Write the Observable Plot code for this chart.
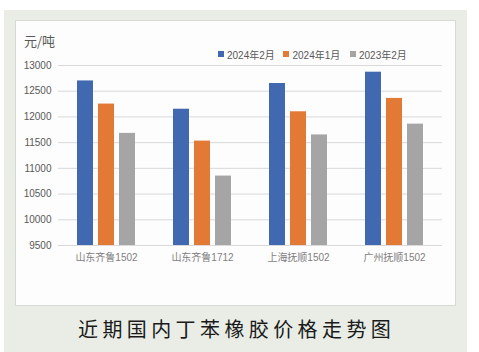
<!DOCTYPE html>
<html>
<head>
<meta charset="utf-8">
<script src="https://cdn.jsdelivr.net/npm/d3@7"></script>
<script src="https://cdn.jsdelivr.net/npm/@observablehq/plot@0.6"></script>
<style>
  html, body { margin: 0; padding: 0; background: #ffffff; }
  #root { position: relative; width: 479px; height: 352px; overflow: hidden; font-family: "Liberation Sans", "Noto Sans CJK SC", sans-serif; }
  #bg { position: absolute; left: 4px; top: 10px; width: 463px; height: 342px; background: #e9ede6; }
  #panel { position: absolute; left: 15px; top: 20px; width: 439px; height: 284px; background: #fdfdfd; border: 1px solid #d6dad2; }
  #chart { position: absolute; left: 0; top: 0; }
  #ylabel { position: absolute; left: 24px; top: 31px; font-size: 13px; color: #595959; font-family: "Noto Sans CJK SC", sans-serif; }
  .lg-sw { position: absolute; width: 6px; height: 6px; top: 51px; }
  .lg-tx { position: absolute; top: 47px; font-size: 10px; color: #595959; white-space: nowrap; font-family: "Liberation Sans", "Noto Sans CJK SC", sans-serif; }
  #title { position: absolute; left: 78px; top: 314px; font-size: 20px; letter-spacing: 4.4px; color: #1a1a1a; white-space: nowrap; font-family: "Noto Sans CJK SC", sans-serif; }
</style>
</head>
<body>
<div id="root">
  <div id="bg"></div>
  <div id="panel"></div>
  <div id="chart"></div>
  <div id="ylabel">元/吨</div>
  <div id="title">近期国内丁苯橡胶价格走势图</div>
</div>
<script>
const categories = ["山东齐鲁1502", "山东齐鲁1712", "上海抚顺1502", "广州抚顺1502"];
const series = ["2024年2月", "2024年1月", "2023年2月"];
const feb2024 = [12700, 12150, 12650, 12870];
const jan2024 = [12250, 11530, 12100, 12360];
const feb2023 = [11680, 10850, 11650, 11860];
const yTicks = [9500, 10000, 10500, 11000, 11500, 12000, 12500, 13000];
const colors = ["#4169b1", "#e27935", "#a5a5a5"];
const legendSwatchX = [217.5, 283, 350];
const legendTextX = [227, 292.5, 359];

const valuesBySeries = [feb2024, jan2024, feb2023];
const data = [];
categories.forEach((c, i) => {
  series.forEach((s, j) => {
    data.push({category: c, series: s, value: valuesBySeries[j][i]});
  });
});

const chart = Plot.plot({
  width: 479,
  height: 300,
  marginLeft: 58,
  marginRight: 37,
  marginTop: 65,
  marginBottom: 55,
  style: {background: "transparent", fontFamily: "'Liberation Sans', 'Noto Sans CJK SC', sans-serif"},
  fx: {domain: categories, padding: 0, label: null},
  x: {domain: series, paddingInner: 0.23, paddingOuter: 0.8685, axis: null},
  y: {domain: [9500, 13000], ticks: yTicks, label: null},
  color: {domain: series, range: colors},
  marks: [
    Plot.gridY(yTicks, {stroke: "#d9d9d9", strokeOpacity: 1}),
    Plot.barY(data, {fx: "category", x: "series", y1: 9500, y2: "value", fill: "series"}),
    Plot.axisY(yTicks, {tickSize: 0, tickPadding: 7, fontSize: 10, fill: "#595959", label: null, tickFormat: d => String(d)}),
    Plot.axisFx({anchor: "bottom", tickSize: 0, tickPadding: 8, fontSize: 10, fill: "#7f7f7f", label: null})
  ]
});
document.getElementById("chart").appendChild(chart);

const root = document.getElementById("root");
series.forEach((s, i) => {
  const sw = document.createElement("div");
  sw.className = "lg-sw";
  sw.style.left = legendSwatchX[i] + "px";
  sw.style.background = colors[i];
  root.appendChild(sw);
  const tx = document.createElement("div");
  tx.className = "lg-tx";
  tx.style.left = legendTextX[i] + "px";
  tx.textContent = s;
  root.appendChild(tx);
});
</script>
</body>
</html>
